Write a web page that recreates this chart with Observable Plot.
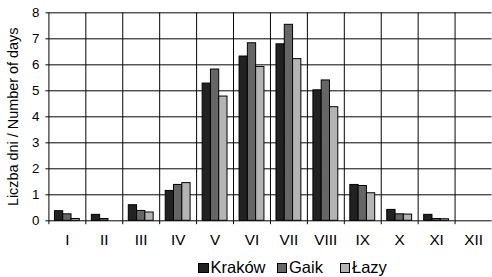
<!DOCTYPE html>
<html>
<head>
<meta charset="utf-8">
<script src="https://cdn.jsdelivr.net/npm/d3@7"></script>
<script src="https://cdn.jsdelivr.net/npm/@observablehq/plot@0.6"></script>
<style>
  html, body { margin: 0; padding: 0; background: #fff; overflow: hidden; }
  #chart { width: 492px; height: 255px; overflow: hidden; }
  #chart [aria-label="y-axis tick label"] { font-size: 13.5px !important; }
  #chart [aria-label="y-axis label"] { font-size: 14.6px !important; }
  #chart [aria-label="fx-axis tick label"] { font-size: 15.5px !important; }
  .legend { position: relative; height: 22px; font: 16.5px "Liberation Sans", Arial, sans-serif; color: #000; }
  .legend span.item { position: absolute; top: 3px; white-space: nowrap; line-height: 19px; }
  .legend span.sw { display: inline-block; box-sizing: border-box; width: 10.5px; height: 10.5px; border: 1px solid #000; margin-right: 2px; vertical-align: 0px; }
</style>
</head>
<body>
<div id="chart"></div>
<div class="legend" id="legend"></div>
<script>
const months = ["I","II","III","IV","V","VI","VII","VIII","IX","X","XI","XII"];
const stations = ["Kraków", "Gaik", "Łazy"];
const krakow = [0.37, 0.23, 0.60, 1.15, 5.28, 6.32, 6.79, 5.02, 1.38, 0.42, 0.23, 0];
const gaik   = [0.25, 0.07, 0.38, 1.38, 5.82, 6.83, 7.54, 5.40, 1.34, 0.25, 0.07, 0];
const lazy   = [0.07, 0.00, 0.32, 1.45, 4.78, 5.92, 6.22, 4.37, 1.06, 0.24, 0.06, 0];
const colors = ["#222222", "#666666", "#b4b4b4"];
const yTicks = [0,1,2,3,4,5,6,7,8];
const yLabel = "Liczba dni / Number of days";

const series = [krakow, gaik, lazy];
const data = [];
months.forEach((m, i) => stations.forEach((s, j) => data.push({month: m, station: s, value: series[j][i]})));

const chart = Plot.plot({
  width: 498,
  height: 255,
  marginLeft: 49,
  marginRight: 0.5,
  marginTop: 12.5,
  marginBottom: 32,
  style: {fontFamily: "'Liberation Sans', Arial, sans-serif", fontSize: "14px", color: "#000", background: "#fff"},
  fx: {domain: months, padding: 0, round: false, label: null, axis: "bottom", tickSize: 0, tickPadding: 13.5},
  x: {domain: stations, paddingInner: 0, paddingOuter: 0.726, round: false, axis: null},
  y: {domain: [0, 8], ticks: yTicks, tickSize: 3, tickPadding: 6.5, label: yLabel, labelAnchor: "center", labelOffset: 42, labelArrow: "none"},
  color: {domain: stations, range: colors},
  marks: [
    Plot.ruleY(yTicks, {stroke: "#000", strokeWidth: 1}),
    Plot.ruleX(stations.slice(0, 1), {x: d => d, y1: -0.15, y2: 8, dx: -10.29, stroke: "#000"}),
    Plot.barY(data, {fx: "month", x: "station", y: "value", fill: "station", stroke: "#000", strokeWidth: 1})
  ]
});
document.getElementById("chart").appendChild(chart);

const legend = document.getElementById("legend");
const positions = [198, 276.5, 339.5];
stations.forEach((s, i) => {
  const item = document.createElement("span");
  item.className = "item";
  item.style.left = positions[i] + "px";
  const sw = document.createElement("span");
  sw.className = "sw";
  sw.style.background = colors[i];
  item.appendChild(sw);
  item.appendChild(document.createTextNode(s));
  legend.appendChild(item);
});
</script>
</body>
</html>
